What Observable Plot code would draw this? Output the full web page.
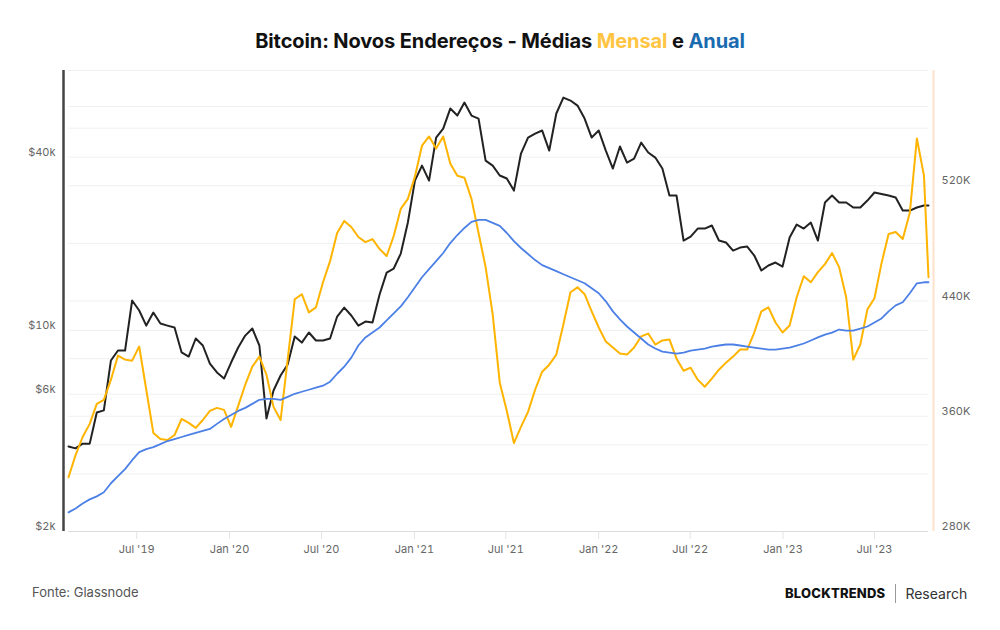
<!DOCTYPE html>
<html>
<head>
<meta charset="utf-8">
<script src="https://cdn.jsdelivr.net/npm/d3@7"></script>
<script src="https://cdn.jsdelivr.net/npm/@observablehq/plot@0.6"></script>
<style>
  html, body { margin: 0; padding: 0; background: #fff; }
  #wrap { position: relative; width: 1000px; height: 630px; font-family: Inter, "Noto Sans", sans-serif; }
  #title { position: absolute; top: 29px; left: 0; width: 1000px; text-align: center; font-weight: 700; font-size: 20px; color: #111; letter-spacing: -0.1px; }
  #chart { position: absolute; top: 60px; left: 0; }
  #source { position: absolute; top: 584px; left: 32px; font-size: 13px; color: #555; }
  #brand { position: absolute; top: 583px; left: 785px; display: flex; align-items: center; height: 20px; }
  #brand .b { font-weight: 800; font-size: 13px; color: #111; letter-spacing: 0.2px; }
  #brand .sep { width: 1px; height: 19px; background: #999; margin: 0 9px 0 10px; }
  #brand .r { font-size: 14px; color: #333; }
</style>
</head>
<body>
<div id="wrap">
  <div id="title">Bitcoin: Novos Endereços - Médias <span style="color:#FFC542">Mensal</span> e <span style="color:#1A6BB0">Anual</span></div>
  <div id="chart"></div>
  <div id="source">Fonte: Glassnode</div>
  <div id="brand"><span class="b">BLOCKTRENDS</span><span class="sep"></span><span class="r">Research</span></div>
</div>
<script>
// ---- data (sampled every 14 days from 2019-02-16, last point 2023-10-16) ----
const startDate = "2019-02-16";
const endDate = "2023-10-16";
const stepDays = 14;

// Bitcoin price (USD, left log axis)
const price = [3950,3890,4040,4040,5180,5270,7860,8510,8510,12700,11720,10390,11530,10560,10390,10230,8380,8110,9370,8860,
  7670,7140,6800,7730,8720,9590,10150,8860,4940,6180,6970,7610,9520,9070,9830,9220,9220,9370,11170,12000,
  11260,10390,10730,10650,13320,15880,16400,18490,23700,33160,37380,33160,46780,50260,59000,55780,61900,55780,54460,38900,
  37380,34520,33700,30600,41160,46780,48300,49480,42160,56700,64420,62900,60420,54460,46780,49480,42160,36500,43540,38300,
  39540,44940,41500,39860,36500,29420,29420,20520,21180,22580,22580,23140,20520,20200,18940,19400,19560,18200,16140,16800,
  17210,16660,21020,23320,22580,23700,20520,27820,29420,27820,27820,26720,26720,28260,30140,29800,29420,28940,26080,26080,
  26720,27160,27160];

// New addresses, 30-day average (right axis)
const mensal = [317700,333000,345600,354700,368600,371400,385400,402100,399300,398600,408400,378400,348400,344200,343500,347000,358100,355400,351900,357400,
  363700,365800,364400,352600,367200,381900,394400,401400,388800,366500,357400,399300,441200,444700,432100,435600,453000,467700,487200,495600,
  491400,484400,480900,483000,476100,471200,485100,504000,510900,526300,547900,554200,545800,554200,535400,527000,525600,510900,487200,463500,
  430700,383300,363700,341400,352600,363000,378400,390900,395800,402800,423700,446100,449500,444700,432800,421600,411900,407700,403500,402800,
  407700,415400,417400,409800,412600,413300,400000,391600,393700,385400,380500,386100,392300,397200,401400,406300,406300,418100,432800,435600,
  425100,418100,423000,442600,457200,453000,460000,465600,473300,463500,442600,399300,409800,434200,441900,466300,486500,487900,483000,501200,
  552800,527000,456500];

// New addresses, 365-day average (right axis)
const anual = [293300,296000,299500,302300,304400,307200,313500,318400,323300,329500,335100,337200,338600,340700,342800,344200,345600,347000,348400,349800,
  351200,354700,358100,360900,363700,365800,368600,371400,372100,372100,371400,373500,375600,377000,378400,379800,381200,384000,389500,394400,
  400700,409100,414700,418100,421600,426500,431400,436300,442600,449500,456500,462100,467700,473300,480200,485800,490700,494900,496300,496300,
  494200,492100,487200,481600,476800,472600,468400,464900,462800,460700,458600,456500,454400,452300,448800,445400,439800,432800,427200,422300,
  418100,414000,409800,407000,404900,404200,403500,404200,405600,406300,407000,408400,409100,409800,409800,409100,408400,407700,407000,406300,
  406300,407000,407700,409100,410500,412600,414700,416700,418100,420200,419500,419500,420900,422300,425100,427900,432800,437000,439100,445400,
  452300,453000,453000];

// axis ticks
const leftTickValues = [2000, 6000, 10000, 40000];
const leftTickLabels = ["$2k", "$6k", "$10k", "$40k"];
const rightTickValues = [280000, 360000, 440000, 520000];
const rightTickLabels = ["280K", "360K", "440K", "520K"];
const xTickDates = ["2019-07-01","2020-01-01","2020-07-01","2021-01-01","2021-07-01","2022-01-01","2022-07-01","2023-01-01","2023-07-01"];
const xTickLabels = ["Jul '19","Jan '20","Jul '20","Jan '21","Jul '21","Jan '22","Jul '22","Jan '23","Jul '23"];
const rightGrid = [280000, 320000, 360000, 400000, 440000, 480000, 520000, 560000, 600000];
const leftGrid = [4000, 6000, 10000, 40000, 60000];

// ---- build ----
const Y0 = 280000, Y1 = 600000, P0 = 2000, P1 = 80000;
const toY = p => Y0 + (Y1 - Y0) * Math.log10(p / P0) / Math.log10(P1 / P0);

const start = new Date(startDate + "T00:00:00Z");
const end = new Date(endDate + "T00:00:00Z");
const dates = d3.range(price.length - 1).map(i => d3.utcDay.offset(start, stepDays * i)).concat([end]);

const priceRows = price.map((v, i) => ({date: dates[i], y: toY(v)}));
const mensalRows = mensal.map((v, i) => ({date: dates[i], y: v}));
const anualRows = anual.map((v, i) => ({date: dates[i], y: v}));

const leftMap = new Map(leftTickValues.map((v, i) => [Math.round(toY(v)), leftTickLabels[i]]));
const rightMap = new Map(rightTickValues.map((v, i) => [v, rightTickLabels[i]]));
const xMap = new Map(xTickDates.map((d, i) => [+new Date(d + "T00:00:00Z"), xTickLabels[i]]));

const chart = Plot.plot({
  width: 1000,
  height: 500,
  marginTop: 10,
  marginBottom: 29,
  marginLeft: 63,
  marginRight: 67,
  x: {type: "utc", domain: [start, end], insetLeft: 5, insetRight: 5, label: null},
  y: {domain: [Y0, Y1], label: null},
  style: {fontFamily: "Inter, 'Noto Sans', sans-serif", fontSize: "11px", color: "#666", background: "#fff"},
  marks: [
    Plot.ruleY(rightGrid.slice(1), {stroke: "#f0f0f0", strokeWidth: 1, insetLeft: 5, insetRight: 5}),
    Plot.ruleY(leftGrid.map(toY), {stroke: "#f0f0f0", strokeWidth: 1, insetLeft: 5, insetRight: 5}),
    Plot.ruleY([Y0], {stroke: "#dcdcdc", strokeWidth: 1, insetLeft: 5, insetRight: 5}),
    Plot.axisX(xTickDates.map(d => new Date(d + "T00:00:00Z")), {
      tickSize: 8, tickPadding: 6, stroke: "#e4e4e4", fill: "#666",
      tickFormat: d => xMap.get(+d), label: null
    }),
    Plot.axisY(leftTickValues.map(toY), {
      anchor: "left", tickSize: 0, tickPadding: 8, dy: -5, fill: "#666",
      tickFormat: d => leftMap.get(Math.round(d)), label: null
    }),
    Plot.axisY(rightTickValues, {
      anchor: "right", tickSize: 0, tickPadding: 8, dy: -5, fill: "#666",
      tickFormat: d => rightMap.get(d), label: null
    }),
    Plot.ruleX([start], {dx: -5, stroke: "#444", strokeWidth: 2.5}),
    Plot.ruleX([end], {dx: 5, stroke: "#fde2cc", strokeWidth: 2}),
    Plot.line(priceRows, {x: "date", y: "y", stroke: "#222", strokeWidth: 2}),
    Plot.line(mensalRows, {x: "date", y: "y", stroke: "#FFB400", strokeWidth: 2}),
    Plot.line(anualRows, {x: "date", y: "y", stroke: "#4C80E6", strokeWidth: 1.8})
  ]
});
document.getElementById("chart").appendChild(chart);
</script>
</body>
</html>
